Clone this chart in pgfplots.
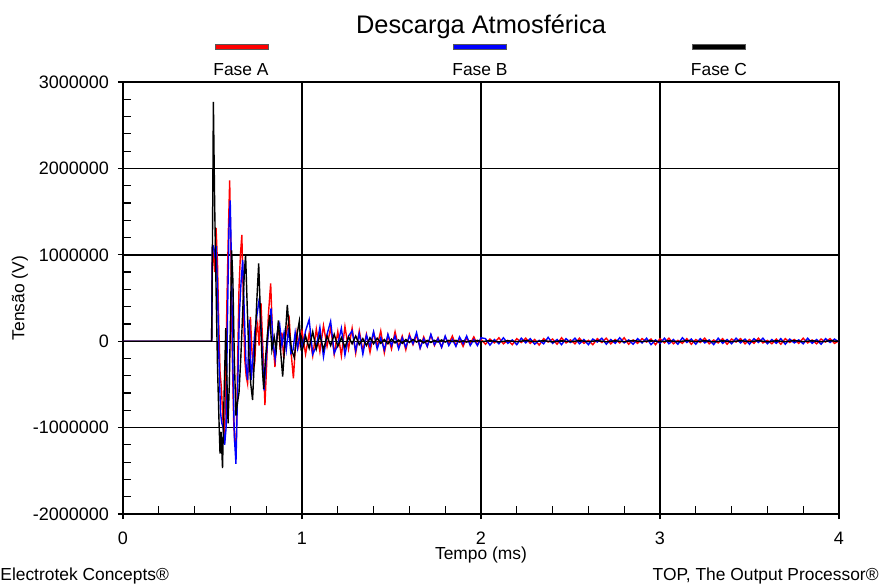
\documentclass[border=0pt]{standalone}
\usepackage{pgfplots}
\pgfplotsset{compat=1.18}
\usepackage{fontspec}
\setmainfont{Liberation Sans}

\begin{document}
\begin{tikzpicture}
\useasboundingbox (-61.5pt,-35.5pt) rectangle (378pt,257pt);
\begin{axis}[
  scale only axis, width=358pt, height=216pt,
  xmin=0, xmax=4, ymin=-2000000, ymax=3000000,
  xtick={0,1,2,3,4},
  ytick={-2000000,-1000000,1000000,2000000,3000000},
  yticklabels={-2000000,-1000000,1000000,2000000,3000000},
  extra y ticks={0}, extra y tick labels={0},
  extra y tick style={major grid style={black, line width=0.45pt}},
  minor ytick={-1800000,-1600000,-1400000,-1200000,-800000,-600000,-400000,-200000,200000,400000,600000,800000,1200000,1400000,1600000,1800000,2200000,2400000,2600000,2800000},
  scaled y ticks=false, scaled x ticks=false,
  minor x tick num=4,
  tick pos=left, tick align=outside,
  major tick length=2.5pt, minor tick length=-4pt,
  every tick/.style={black, line width=0.6pt},
  grid=major, major grid style={black, line width=0.75pt},
  axis line style={black, line width=0.75pt},
  /pgf/number format/assume math mode=true,
  ticklabel style={font=\fontsize{9}{10}\selectfont},
  xticklabel style={yshift=-3pt},
  yticklabel style={xshift=-1pt},
  title={Descarga Atmosférica},
  every axis title/.style={at={(axis description cs:0.5,1.1273)}, anchor=center, font=\fontsize{12.7}{14}\selectfont},
  xlabel={Tempo (ms)},
  xlabel style={at={(axis description cs:0.5,-0.0949)}, anchor=center, font=\fontsize{8.7}{10}\selectfont},
  ylabel={Tensão (V)},
  ylabel style={at={(axis description cs:-0.1439,0.5)}, anchor=center, rotate=0, font=\fontsize{8.7}{10}\selectfont},
]
% Fase A (red), values in kV
\addplot[red, line width=0.7pt] table[x index=0, y expr=\thisrowno{1}*1000] {
0 0
0.495 0
0.499 1090
0.505 1000
0.512 800
0.520 1310
0.528 900
0.535 200
0.542 -350
0.550 -550
0.558 -900
0.566 -1180
0.572 -700
0.580 400
0.589 1300
0.596 1860
0.603 1000
0.610 -100
0.618 -900
0.625 -1200
0.632 -1250
0.640 -300
0.648 600
0.656 1000
0.664 1230
0.672 500
0.680 -200
0.688 -400
0.696 -490
0.704 -100
0.712 280
0.720 -100
0.728 -340
0.736 -250
0.744 100
0.752 200
0.760 -50
0.771 440
0.780 0
0.793 -740
0.802 -300
0.812 300
0.825 670
0.835 100
0.849 -300
0.858 0
0.868 200
0.878 -100
0.888 100
0.898 -200
0.908 50
0.918 150
0.929 250
0.940 -150
0.952 -430
0.962 -100
0.972 100
0.982 -50
0.990 60
1.00 120
1.02 -150
1.04 90
1.06 -170
1.08 140
1.10 -120
1.12 180
1.14 -60
1.16 160
1.18 -150
1.20 110
1.22 -170
1.24 170
1.26 -90
1.28 150
1.30 -140
1.32 120
1.34 -110
1.36 80
1.38 -130
1.40 100
1.42 -60
1.44 120
1.46 -135
1.48 70
1.50 -90
1.52 110
1.54 -70
1.56 60
1.58 -100
1.60 80
1.62 -40
1.64 70
1.66 -80
1.68 50
1.70 -60
1.72 70
1.74 -50
1.76 40
1.78 -70
1.80 50
1.82 -30
1.84 60
1.86 -50
1.88 30
1.90 -60
1.92 40
1.94 -30
1.96 50
1.98 -40
2.000 20
2.025 -35
2.050 25
2.075 -20
2.100 40
2.125 -30
2.150 10
2.175 -40
2.200 30
2.225 -15
2.250 35
2.275 -25
2.300 20
2.325 -45
2.350 30
2.375 -10
2.400 25
2.425 -35
2.450 40
2.475 -20
2.500 15
2.525 -30
2.550 35
2.575 -25
2.600 10
2.625 -40
2.650 30
2.675 -15
2.700 35
2.725 -30
2.750 20
2.775 -20
2.800 40
2.825 -35
2.850 15
2.875 -25
2.900 30
2.925 -10
2.950 25
2.975 -40
3.000 30
3.025 -20
3.050 35
3.075 -30
3.100 10
3.125 -25
3.150 30
3.175 -35
3.200 20
3.225 -15
3.250 35
3.275 -30
3.300 15
3.325 -20
3.350 30
3.375 -35
3.400 25
3.425 -10
3.450 30
3.475 -30
3.500 20
3.525 -25
3.550 35
3.575 -20
3.600 10
3.625 -30
3.650 25
3.675 -35
3.700 30
3.725 -15
3.750 20
3.775 -25
3.800 35
3.825 -20
3.850 15
3.875 -30
3.900 25
3.925 -10
3.950 30
3.975 -25
4.000 5
};
% Fase B (blue)
\addplot[blue, line width=0.7pt] table[x index=0, y expr=\thisrowno{1}*1000] {
0 0
0.495 0
0.499 1090
0.505 1100
0.512 1000
0.520 1100
0.528 600
0.536 -200
0.545 -830
0.552 -950
0.560 -1000
0.568 -1200
0.576 -1000
0.584 300
0.592 1300
0.599 1630
0.606 900
0.614 -300
0.622 -1100
0.631 -1420
0.640 -600
0.650 300
0.660 700
0.669 940
0.678 300
0.688 -300
0.696 -450
0.706 250
0.716 -450
0.726 -200
0.736 100
0.748 300
0.762 500
0.775 0
0.788 -570
0.800 -200
0.812 100
0.827 380
0.838 0
0.850 -200
0.862 100
0.875 200
0.888 -50
0.900 100
0.912 -100
0.925 150
0.938 -140
0.950 -100
0.962 100
0.975 -80
0.988 80
1.00 -100
1.02 120
1.04 250
1.06 -150
1.08 -60
1.10 160
1.12 -180
1.14 80
1.16 230
1.18 -140
1.20 -40
1.22 150
1.24 -160
1.26 60
1.28 120
1.30 -110
1.32 90
1.34 -150
1.36 70
1.38 -60
1.40 110
1.42 -90
1.44 40
1.46 -100
1.48 80
1.50 -50
1.52 60
1.54 -90
1.56 40
1.58 -70
1.60 60
1.62 -30
1.64 100
1.66 -80
1.68 30
1.70 -60
1.72 80
1.74 -40
1.76 30
1.78 -70
1.80 60
1.82 -50
1.84 20
1.86 -60
1.88 50
1.90 -30
1.92 60
1.94 -50
1.96 20
1.98 -50
2.000 40
2.025 30
2.050 -45
2.075 20
2.100 -30
2.125 40
2.150 -25
2.175 15
2.200 -40
2.225 35
2.250 -20
2.275 30
2.300 -35
2.325 10
2.350 -30
2.375 45
2.400 -25
2.425 20
2.450 -40
2.475 30
2.500 -15
2.525 35
2.550 -30
2.575 20
2.600 -40
2.625 25
2.650 -10
2.675 35
2.700 -35
2.725 20
2.750 -25
2.775 40
2.800 -20
2.825 15
2.850 -35
2.875 30
2.900 -20
2.925 35
2.950 -40
2.975 15
3.000 -25
3.025 35
3.050 -30
3.075 20
3.100 -35
3.125 40
3.150 -15
3.175 25
3.200 -35
3.225 30
3.250 -20
3.275 15
3.300 -40
3.325 35
3.350 -25
3.375 20
3.400 -30
3.425 35
3.450 -20
3.475 25
3.500 -35
3.525 30
3.550 -15
3.575 35
3.600 -30
3.625 20
3.650 -25
3.675 30
3.700 -35
3.725 25
3.750 -20
3.775 15
3.800 -30
3.825 35
3.850 -25
3.875 20
3.900 -35
3.925 30
3.950 -15
3.975 25
4.000 -10
};
% Fase C (black)
\addplot[black, line width=0.7pt] table[x index=0, y expr=\thisrowno{1}*1000] {
0 0
0.496 0
0.500 1200
0.505 2770
0.512 1600
0.520 600
0.528 -300
0.536 -900
0.542 -1300
0.548 -1050
0.556 -1470
0.565 -600
0.574 150
0.580 -400
0.587 -950
0.594 -500
0.600 200
0.607 1050
0.614 700
0.622 -200
0.631 -860
0.640 -700
0.648 -600
0.658 -200
0.668 300
0.678 800
0.685 1000
0.694 400
0.704 -200
0.714 -500
0.724 -680
0.734 -200
0.746 400
0.758 900
0.768 300
0.778 -300
0.786 -550
0.796 -200
0.808 100
0.820 300
0.832 -100
0.845 50
0.856 -100
0.868 240
0.880 -100
0.892 -410
0.905 0
0.918 420
0.930 100
0.942 -100
0.957 -190
0.970 50
0.985 230
0.995 -100
1.00 -120
1.02 60
1.04 -80
1.06 110
1.08 -90
1.10 70
1.12 -100
1.14 60
1.16 -50
1.18 80
1.20 -60
1.22 40
1.24 -70
1.26 50
1.28 -30
1.30 60
1.32 -40
1.34 30
1.36 -50
1.38 40
1.40 -30
1.42 35
1.44 -25
1.46 20
1.48 -30
1.50 25
1.52 -20
1.54 15
1.56 -25
1.58 20
1.60 -15
1.62 20
1.64 -10
1.66 15
1.68 -20
1.70 10
1.72 -15
1.74 10
1.76 -10
1.78 15
1.80 -10
1.82 10
1.84 -5
1.86 10
1.88 -10
1.90 5
1.92 -10
1.94 5
1.96 -5
1.98 10
2.00 -5
2.05 6
2.10 -8
2.15 5
2.20 -6
2.25 8
2.30 -5
2.35 6
2.40 -8
2.45 5
2.50 -6
2.55 7
2.60 -5
2.65 6
2.70 -7
2.75 5
2.80 -6
2.85 8
2.90 -5
2.95 6
3.00 -7
3.05 5
3.10 -6
3.15 7
3.20 -5
3.25 6
3.30 -8
3.35 5
3.40 -6
3.45 7
3.50 -5
3.55 6
3.60 -7
3.65 5
3.70 -6
3.75 8
3.80 -5
3.85 6
3.90 -7
3.95 5
4.00 0
};
\end{axis}
% legend
\draw[gray!70!black, line width=0.3pt, fill=red]   (46pt,232.3pt)  rectangle (72.5pt,234.7pt);
\draw[gray!70!black, line width=0.3pt, fill=blue]  (165pt,232.3pt) rectangle (191.5pt,234.7pt);
\draw[gray!70!black, line width=0.3pt, fill=black] (284.5pt,232.3pt) rectangle (311pt,234.7pt);
\node[font=\fontsize{8.7}{10}\selectfont] at (59pt,222pt) {Fase A};
\node[font=\fontsize{8.7}{10}\selectfont] at (178.5pt,222pt) {Fase B};
\node[font=\fontsize{8.7}{10}\selectfont] at (298pt,222pt) {Fase C};
% footer
\node[font=\fontsize{8.7}{10}\selectfont, anchor=west, inner sep=0pt] at (-61.5pt,-31pt) {Electrotek Concepts®};
\node[font=\fontsize{8.7}{10}\selectfont, anchor=east, inner sep=0pt] at (378pt,-31pt) {TOP, The Output Processor®};
\end{tikzpicture}
\end{document}
